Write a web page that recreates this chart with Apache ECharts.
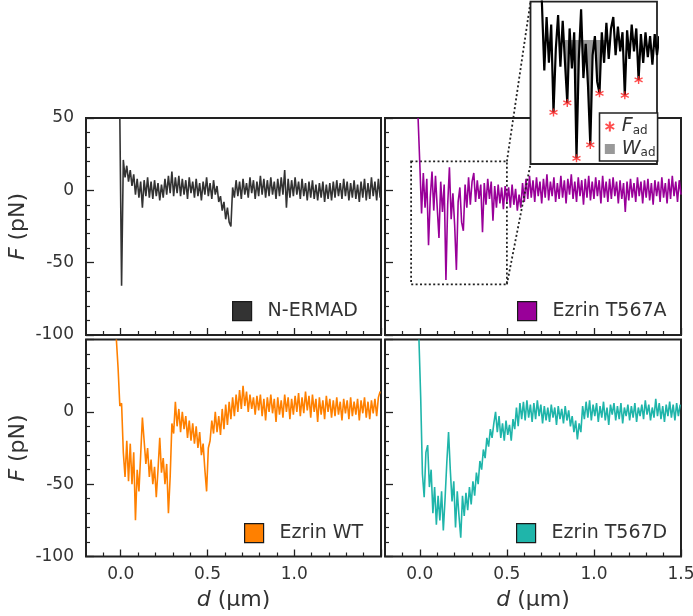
<!DOCTYPE html>
<html><head><meta charset="utf-8">
<script src="https://cdn.jsdelivr.net/npm/echarts@6/dist/echarts.min.js"></script>
<style>html,body{margin:0;padding:0;background:#fff}#c{width:693px;height:616px}</style>
</head><body><div id="c"></div>
<script>
// ---------- data (d in µm, F in pN), sampled every 0.01 µm ----------
const step = 0.01;
const nermadX0 = -0.005;
const nermad = [50,-66,21,9,17,6,14,3,11,-3, 8,-5,6,-12,7,-4,9,-5,6,-6, 7,-4,5,-7,4,-5,8,-3,10,-2,
 13,-4,9,-2,10,-4,8,-3,7,-6, 9,-2,6,-5,8,-4,5,-7,6,-3, 9,-4,5,-6,7,-3,3,-8,-4,-14,
 -8,-20,-12,-22,-25,2,-5,7,-4,6, -6,8,-3,5,-5,9,-2,7,-6,6, -4,10,-3,8,-5,7,-4,9,-3,6,
 -6,8,-4,9,-3,14,-12,8,-5,7, -4,9,-3,6,-6,8,-4,5,-7,6, -5,7,-6,4,-7,5,-5,6,-8,4,
 -6,5,-7,6,-5,7,-4,5,-6,8, -4,6,-7,5,-5,7,-6,4,-8,6, -5,8,-7,5,-6,9,-4,6,-7,8, -5];
const t567aX0 = -0.01;
const t567a = [50,18,-16,12,-12,8,-38,-5,13,-14, 10,-12,-33,6,-15,4,-62,-10,16,-20,
 -2,-24,-55,-8,2,-22,-28,4,-12,9, -10,6,12,-8,7,-6,4,-29,5,-10, 8,-6,6,-21,3,-12,4,-9,2,-13,
 3,-8,2,-12,4,-10,1,-14,-3,-12, 5,-8,8,-6,10,-5,7,-8,9,-4, 6,-9,8,-5,11,-7,6,-4,9,-8,
 5,-6,10,-5,7,-9,8,-3,11,-6, 6,-8,9,-4,7,-10,8,-5,10,-7, 6,-6,9,-4,7,-9,10,-5,6,-8,
 8,-6,9,-4,6,-9,7,-6,5,-15, 6,-7,8,-5,5,-8,9,-4,6,-9, 7,-5,8,-7,5,-10,7,-4,6,-8,
 9,-5,5,-9,8,-6,10,-4,6,-8, 7,-3];
const wtX0 = -0.025;
const wt = [50,30,4,6,-28,-45,-20,-48,-22,-50, -28,-75,-40,-55,-30,-4,-20,-36,-25,-45,
 -33,-50,-38,-59,-40,-18,-42,-32,-50,-36, -70,-45,-8,-15,7,-10,2,-14,0,-12,
 -3,-18,-6,-20,-8,-22,-10,-25,-14,-30, -22,-40,-55,-25,-20,-6,-15,0,-14,-3,
 -16,2,-12,5,-9,7,-5,10,-3,12, 0,15,2,18,4,14,0,12,2,10, -2,11,1,12,-3,9,-6,10,0,12,
 -1,9,-7,10,-2,8,-4,12,0,10, -5,9,-2,11,0,13,-3,10,-1,14, 1,11,-4,12,0,9,-7,10,-2,8,
 -5,11,0,9,-4,8,-3,10,-2,7, -6,9,-1,8,-5,10,-3,7,-2,9, -6,8,-1,10,-4,7,-5,8,-1,9, -3,10,14];
const t567dX0 = -0.005;
const t567d = [50,10,-43,-59,-28,-23,-52,-40,-70,-52, -78,-58,-75,-55,-82,-60,-35,-14,-40,-62,
 -48,-80,-55,-72,-87,-58,-72,-56,-68,-52, -64,-48,-58,-42,-50,-34,-40,-26,-32,-18,
 -24,-12,-18,-8,0,-14,-3,-18,-8,-20, -6,-16,-9,-20,-5,-12,3,-10,6,-5, 7,-6,8,-4,5,-7,6,-5,8,-3,
 5,-8,4,-6,3,-7,5,-4,3,-9, 4,-5,2,-8,4,-6,1,-10,-3,-14, -6,-19,-8,-14,4,-5,7,-4,8,-6,
 5,-3,6,-7,4,-4,7,-6,3,-9, 5,-2,6,-6,4,-5,6,-8,3,-3, 5,-6,4,-4,6,-7,3,-3,5,-5,
 8,-2,5,-6,3,-4,9,-3,6,-5, 4,-7,5,-3,7,-4,5,-6,6,-3, 5];
// adhesion events (F_ad) and work window (W_ad) in Ezrin T567A
const fadX = [0.05, 0.11, 0.15, 0.21, 0.25, 0.36, 0.42];
const fadY = [-38, -33, -62, -55, -28, -29, -21];
const wadRange = [0.10, 0.30];
// zoomed region (dotted box / inset)
const zoomX = [-0.05, 0.5];
const zoomY = [-65, 20];
// axes
const xRange = [-0.2, 1.5];
const yRange = [-100, 50];
const xMajor = [0, 0.5, 1.0, 1.5];
const xMinor = [-0.1, 0.1, 0.2, 0.3, 0.4, 0.6, 0.7, 0.8, 0.9, 1.1, 1.2, 1.3, 1.4];
const yMajor = [-100, -50, 0, 50];
const yMinor = [-90, -80, -70, -60, -40, -30, -20, -10, 10, 20, 30, 40];
const xLabelsBL = [0, 0.5, 1.0];
const xLabelsBR = [0, 0.5, 1.0, 1.5];
const yLabelsTL = [-100, -50, 0, 50];
const yLabelsBL = [-100, -50, 0];
const names = ['N-ERMAD', 'Ezrin T567A', 'Ezrin WT', 'Ezrin T567D'];
const colors = ['#333333', '#990099', '#ff8000', '#1fb5aa'];

// ---------- build ----------
const FONT = 'DejaVu Sans';
const INK = '#222';
function pairs(x0, vals) { return vals.map((v, i) => [+(x0 + i * step).toFixed(4), v]); }
const series4 = [pairs(nermadX0, nermad), pairs(t567aX0, t567a), pairs(wtX0, wt), pairs(t567dX0, t567d)];

const grids = [
  {left: 86, top: 118, width: 295, height: 217},
  {left: 385, top: 118, width: 296, height: 217},
  {left: 86, top: 339.5, width: 295, height: 217},
  {left: 385, top: 339.5, width: 296, height: 217}
].map(g => Object.assign(g, {show: true, borderColor: INK, borderWidth: 2, backgroundColor: 'transparent', outerBoundsMode: 'none', containLabel: false}));
grids.push({left: 530.5, top: 1.7, width: 126.5, height: 162.3, show: true, borderColor: INK, borderWidth: 1.8,
  backgroundColor: '#fff', z: 3, outerBoundsMode: 'none', containLabel: false});

const titleRich = {i: {fontStyle: 'italic', fontSize: 22, color: '#333', fontFamily: FONT}};
const xAxes = [], yAxes = [];
const xLabels = [null, null, xLabelsBL, xLabelsBR];
const yLabels = [yLabelsTL, null, yLabelsBL, null];
const noLine = {show: false, onZero: false};
for (let g = 0; g < 4; g++) {
  const xl = xLabels[g];
  xAxes.push({type: 'value', gridIndex: g, min: xRange[0], max: xRange[1], position: 'bottom',
    axisLine: noLine, splitLine: {show: false},
    axisTick: {show: true, inside: true, length: 7, customValues: xMajor, lineStyle: {color: INK, width: 1.3}},
    axisLabel: xl ? {show: true, customValues: xl, formatter: v => v.toFixed(1), fontSize: 17, color: '#333', margin: 10, fontFamily: FONT} : {show: false},
    name: xl ? '{i|d} (µm)' : '', nameLocation: 'middle', nameGap: 33,
    nameTextStyle: {fontSize: 22, color: '#333', fontFamily: FONT, rich: titleRich}});
  xAxes.push({type: 'value', gridIndex: g, min: xRange[0], max: xRange[1], position: 'bottom',
    axisLine: noLine, splitLine: {show: false}, axisLabel: {show: false},
    axisTick: {show: true, inside: true, length: 4, customValues: xMinor, lineStyle: {color: INK, width: 1.2}}});
  const yl = yLabels[g];
  yAxes.push({type: 'value', gridIndex: g, min: yRange[0], max: yRange[1], position: 'left',
    axisLine: noLine, splitLine: {show: false},
    axisTick: {show: true, inside: true, length: 8, customValues: yMajor, lineStyle: {color: INK, width: 1.3}},
    axisLabel: yl ? {show: true, customValues: yl, fontSize: 17, color: '#333', margin: 12, fontFamily: FONT} : {show: false},
    name: yl ? '{i|F} (pN)' : '', nameLocation: 'middle', nameGap: 57,
    nameTextStyle: {fontSize: 22, color: '#333', fontFamily: FONT, rich: titleRich}});
  yAxes.push({type: 'value', gridIndex: g, min: yRange[0], max: yRange[1], position: 'left',
    axisLine: noLine, splitLine: {show: false}, axisLabel: {show: false},
    axisTick: {show: true, inside: true, length: 4, customValues: yMinor, lineStyle: {color: INK, width: 1.2}}});
}
// inset axes (index 8)
xAxes.push({type: 'value', gridIndex: 4, min: zoomX[0], max: zoomX[1], show: false, axisLine: noLine});
yAxes.push({type: 'value', gridIndex: 4, min: zoomY[0], max: zoomY[1], show: false, axisLine: noLine});

const series = [];
for (let g = 0; g < 4; g++) {
  const s = {name: names[g], type: 'line', xAxisIndex: 2 * g, yAxisIndex: 2 * g, data: series4[g],
    showSymbol: false, symbol: 'none', animation: false, z: 2,
    itemStyle: {color: colors[g]}, lineStyle: {color: colors[g], width: 1.6}};
  if (g === 1) {
    s.markArea = {silent: true,
      itemStyle: {color: 'rgba(0,0,0,0)', borderColor: INK, borderWidth: 1.8, borderType: [2, 2.4]},
      data: [[{coord: [zoomX[0], zoomY[1]]}, {coord: [zoomX[1], zoomY[0]]}]]};
  }
  series.push(s);
}
const wadData = series4[1].filter(p => p[0] >= wadRange[0] - 1e-9 && p[0] <= wadRange[1] + 1e-9).map(p => [p[0], Math.min(p[1], 0)]);
series.push({name: 'Wad', type: 'line', xAxisIndex: 8, yAxisIndex: 8, data: wadData, symbol: 'none', z: 9,
  itemStyle: {color: '#999'}, lineStyle: {width: 0, color: '#999'}, areaStyle: {color: '#9a9a9a', opacity: 1}});
series.push({name: 'inset', type: 'line', xAxisIndex: 8, yAxisIndex: 8, data: series4[1], symbol: 'none', z: 10,
  itemStyle: {color: '#000'}, lineStyle: {color: '#000', width: 2.2}});
const ASTER = 'path://M5,0L5,10M0.67,2.5L9.33,7.5M0.67,7.5L9.33,2.5';
series.push({name: 'Fad', type: 'scatter', xAxisIndex: 8, yAxisIndex: 8, z: 11,
  data: fadX.map((x, i) => [x, fadY[i]]), symbol: ASTER, symbolSize: 8,
  itemStyle: {color: '#ff2020', borderColor: '#ff2020', borderWidth: 1.4}});

const legendPos = [[232, 301], [517, 301], [244, 523], [516, 523]];
const legends = names.map((n, g) => ({data: [n], left: legendPos[g][0], top: legendPos[g][1], padding: 0,
  icon: 'rect', itemWidth: 19, itemHeight: 19, selectedMode: false,
  itemStyle: {borderColor: '#1a1a1a', borderWidth: 1.2},
  textStyle: {fontSize: 19, color: '#333', fontFamily: FONT, padding: [0, 0, 0, 11]}}));
legends.push({data: [{name: 'Fad'}, {name: 'Wad', icon: 'rect'}], left: 599.5, top: 113, orient: 'vertical',
  z: 12, selectedMode: false, backgroundColor: '#fff', borderColor: INK, borderWidth: 1.6,
  padding: [4, 2, 2, 5], itemGap: 3, itemWidth: 10, itemHeight: 10,
  formatter: n => n === 'Fad' ? '{i|F}{s|ad}' : '{i|W}{s|ad}',
  textStyle: {color: '#333', fontFamily: FONT, padding: [0, 0, 0, 2], rich: {
    i: {fontStyle: 'italic', fontSize: 19, lineHeight: 20, color: '#333', fontFamily: FONT},
    s: {fontSize: 12, lineHeight: 12, verticalAlign: 'bottom', color: '#333', fontFamily: FONT}}}});

const chart = echarts.init(document.getElementById('c'), null, {renderer: 'canvas'});
chart.setOption({animation: false, textStyle: {fontFamily: FONT},
  grid: grids, xAxis: xAxes, yAxis: yAxes, legend: legends, series: series});

// connector lines from dotted box to inset (computed from data coords)
const a1 = chart.convertToPixel({gridIndex: 1}, [zoomX[1], zoomY[1]]);
const a2 = chart.convertToPixel({gridIndex: 1}, [zoomX[1], zoomY[0]]);
const b1 = chart.convertToPixel({gridIndex: 4}, [zoomX[0], zoomY[1]]);
const b2 = chart.convertToPixel({gridIndex: 4}, [zoomX[0], zoomY[0]]);
const dashStyle = {stroke: INK, lineWidth: 1.8, lineDash: [2, 2.4]};
chart.setOption({graphic: [
  {type: 'line', z: 100, shape: {x1: a1[0], y1: a1[1], x2: b1[0], y2: b1[1]}, style: dashStyle},
  {type: 'line', z: 100, shape: {x1: a2[0], y1: a2[1], x2: b2[0], y2: b2[1]}, style: dashStyle}
]});
</script></body></html>
